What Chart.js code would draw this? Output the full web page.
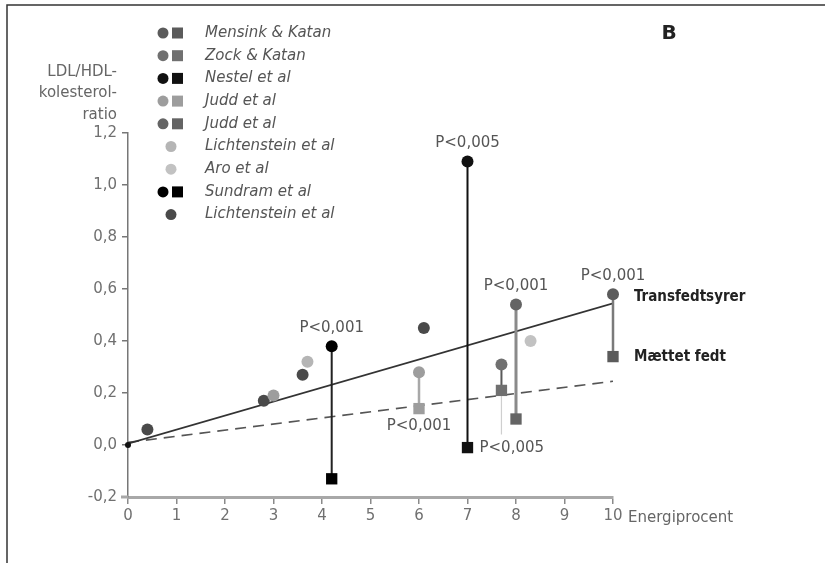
<!DOCTYPE html>
<html>
<head>
<meta charset="utf-8">
<script src="https://cdn.jsdelivr.net/npm/chart.js@4"></script>
<style>
  body { margin: 0; background: #fff; }
</style>
</head>
<body>
<canvas id="ratioChart" width="825" height="563"></canvas>
<script>
// Studier i forklaringen
const studies = ["Mensink & Katan", "Zock & Katan", "Nestel et al", "Judd et al", "Judd et al",
    "Lichtenstein et al", "Aro et al", "Sundram et al", "Lichtenstein et al"];

// Parrede sammenligninger: transfedtsyrer (cirkel) vs mættet fedt (firkant)
const pairStudy = [0, 1, 2, 3, 4, 7];
const pairEnergy = [10, 7.7, 7.0, 6.0, 8.0, 4.2];
const pairTrans = [0.58, 0.31, 1.09, 0.28, 0.54, 0.38];
const pairSat = [0.34, 0.21, -0.01, 0.14, 0.10, -0.13];
const pTop = ["P<0,001", "", "P<0,005", "", "P<0,001", "P<0,001"];
const pLow = ["", "", "P<0,005", "P<0,001", "", ""];

// Enkeltpunkter (kun transfedtsyrer)
const singleStudy = [8, 8, 3, 8, 5, 8, 6];
const singleEnergy = [0.4, 2.8, 3.0, 3.6, 3.7, 6.1, 8.3];
const singleTrans = [0.06, 0.17, 0.19, 0.27, 0.32, 0.45, 0.40];

// Regressionslinjer
const fitEnergy = [0, 10];
const transFit = [0.005, 0.545];
const satFit = [0.01, 0.245];

// svag linje ved 7,7
const faintEnergy = 7.7;
const faintRange = [0.21, 0.04];

const xTicks = [0, 1, 2, 3, 4, 5, 6, 7, 8, 9, 10];

// farver
const studyShade = ["#5b5b5b", "#707070", "#111111", "#9d9d9d", "#646464",
    "#b5b5b5", "#c2c2c2", "#000000", "#4a4a4a"];
const pairLine = ["#7a7a7a", "#5a5a5a", "#111111", "#a8a8a8", "#8a8a8a", "#222222"];
const pairWidth = [2.5, 2, 2, 2.5, 3, 2];
const lowSide = ["", "", "right", "below", "", ""];

const tickFont = { family: "DejaVu Sans", size: 15 };

const datasets = [];

// enkeltpunkter
datasets.push({
    type: "scatter",
    data: singleEnergy.map((x, i) => ({ x, y: singleTrans[i] })),
    pointStyle: "circle",
    pointRadius: 6,
    pointBackgroundColor: singleStudy.map(s => studyShade[s]),
    pointBorderWidth: 0,
    clip: false,
    order: 0,
});

// parrede
pairEnergy.forEach((x, i) => {
    const c = studyShade[pairStudy[i]];
    datasets.push({
        type: "line",
        data: [{ x, y: pairTrans[i] }, { x, y: pairSat[i] }],
        borderColor: pairLine[i],
        borderWidth: pairWidth[i],
        pointStyle: ["circle", "rect"],
        pointRadius: [6, 8],
        pointBackgroundColor: c,
        pointBorderColor: c,
        pointBorderWidth: 0,
        clip: false,
        order: 1,
    });
});

// oprindelse
datasets.push({
    type: "scatter",
    data: [{ x: 0, y: 0 }],
    pointRadius: 3,
    pointBackgroundColor: "#111",
    pointBorderWidth: 0,
    clip: false,
    order: 0,
});

datasets.push({
    type: "line",
    data: faintRange.map(y => ({ x: faintEnergy, y })),
    borderColor: "#cfcfcf",
    borderWidth: 1.2,
    pointRadius: 0,
    order: 2,
});

datasets.push({
    type: "line",
    data: fitEnergy.map((x, i) => ({ x, y: transFit[i] })),
    borderColor: "#333",
    borderWidth: 1.6,
    pointRadius: 0,
    order: 3,
});
datasets.push({
    type: "line",
    data: fitEnergy.map((x, i) => ({ x, y: satFit[i] })),
    borderColor: "#555",
    borderWidth: 1.6,
    borderDash: [11, 7],
    pointRadius: 0,
    order: 3,
});

const extras = {
    id: "extras",
    afterDraw(chart) {
        const ctx = chart.ctx;
        const xs = chart.scales.x, ys = chart.scales.y;
        ctx.save();

        // ramme (kun top og venstre)
        ctx.strokeStyle = "#333";
        ctx.lineWidth = 1.5;
        ctx.beginPath();
        ctx.moveTo(7, 563);
        ctx.lineTo(7, 5);
        ctx.lineTo(825, 5);
        ctx.stroke();

        // x-aksen går lidt forbi 0
        ctx.strokeStyle = "#a8a8a8";
        ctx.lineWidth = 3;
        ctx.beginPath();
        ctx.moveTo(xs.left - 7, ys.bottom);
        ctx.lineTo(xs.left, ys.bottom);
        ctx.stroke();

        // y-akse titel
        ctx.fillStyle = "#666";
        ctx.font = "15px 'DejaVu Sans'";
        ctx.textAlign = "right";
        ctx.textBaseline = "middle";
        ["LDL/HDL-", "kolesterol-", "ratio"].forEach((t, i) => ctx.fillText(t, 117, 72 + i * 21.5));

        // x-akse titel
        ctx.textAlign = "left";
        ctx.fillText("Energiprocent", xs.getPixelForValue(10) + 15, 518);

        // forklaring
        const hasSat = studies.map((_, s) => pairStudy.includes(s));
        studies.forEach((name, s) => {
            const y = 33 + s * 22.7;
            ctx.fillStyle = studyShade[s];
            if (hasSat[s]) {
                ctx.beginPath();
                ctx.arc(163, y, 5.5, 0, Math.PI * 2);
                ctx.fill();
                ctx.fillRect(172, y - 5.5, 11, 11);
            } else {
                ctx.beginPath();
                ctx.arc(171, y, 5.5, 0, Math.PI * 2);
                ctx.fill();
            }
            ctx.fillStyle = "#555";
            ctx.font = "oblique 15px 'DejaVu Sans'";
            ctx.textAlign = "left";
            ctx.fillText(name, 205, y);
        });

        // B
        ctx.fillStyle = "#222";
        ctx.font = "bold 20px 'DejaVu Sans'";
        ctx.textAlign = "center";
        ctx.fillText("B", 669, 34);

        // P-værdier
        ctx.font = "15px 'DejaVu Sans'";
        ctx.fillStyle = "#555";
        pairEnergy.forEach((x, i) => {
            const px = xs.getPixelForValue(x);
            if (pTop[i]) {
                ctx.textAlign = "center";
                ctx.fillText(pTop[i], px, ys.getPixelForValue(pairTrans[i]) - 18);
            }
            if (pLow[i]) {
                const py = ys.getPixelForValue(pairSat[i]);
                if (lowSide[i] === "right") {
                    ctx.textAlign = "left";
                    ctx.fillText(pLow[i], px + 12, py + 1);
                } else {
                    ctx.textAlign = "center";
                    ctx.fillText(pLow[i], px, py + 18);
                }
            }
        });

        // serienavne
        const last = pairEnergy.indexOf(10);
        ctx.fillStyle = "#222";
        ctx.font = "bold 15px 'Liberation Sans Narrow', 'DejaVu Sans Condensed', sans-serif";
        ctx.textAlign = "left";
        const lx = xs.getPixelForValue(10) + 21;
        ctx.fillText("Transfedtsyrer", lx, ys.getPixelForValue(pairTrans[last]) + 3);
        ctx.fillText("Mættet fedt", lx, ys.getPixelForValue(pairSat[last]) + 1);

        ctx.restore();
    },
};

new Chart(document.getElementById("ratioChart"), {
    data: { datasets },
    options: {
        responsive: false,
        animation: false,
        layout: { padding: { left: 0, right: 212, top: 133, bottom: 26 } },
        plugins: { legend: { display: false }, tooltip: { enabled: false } },
        scales: {
            x: {
                type: "linear",
                min: 0,
                max: 10,
                afterBuildTicks: (s) => { s.ticks = xTicks.map(v => ({ value: v })); },
                afterFit: (s) => { s.height = 40; },
                ticks: { color: "#707070", font: tickFont, padding: 3, callback: v => String(v) },
                grid: { drawOnChartArea: false, drawTicks: true, tickLength: 7, color: "#8a8a8a", lineWidth: 1.5 },
                border: { color: "#a8a8a8", width: 3 },
            },
            y: {
                type: "linear",
                min: -0.2,
                max: 1.2,
                afterFit: (s) => { s.width = 128; },
                ticks: {
                    stepSize: 0.2,
                    color: "#707070",
                    font: tickFont,
                    padding: 5,
                    callback: v => (Math.abs(v) < 1e-9 ? 0 : v).toFixed(1).replace(".", ","),
                },
                grid: { drawOnChartArea: false, drawTicks: true, tickLength: 6, color: "#777", lineWidth: 1.5 },
                border: { color: "#777", width: 1.5 },
            },
        },
    },
    plugins: [extras],
});
</script>
</body>
</html>
